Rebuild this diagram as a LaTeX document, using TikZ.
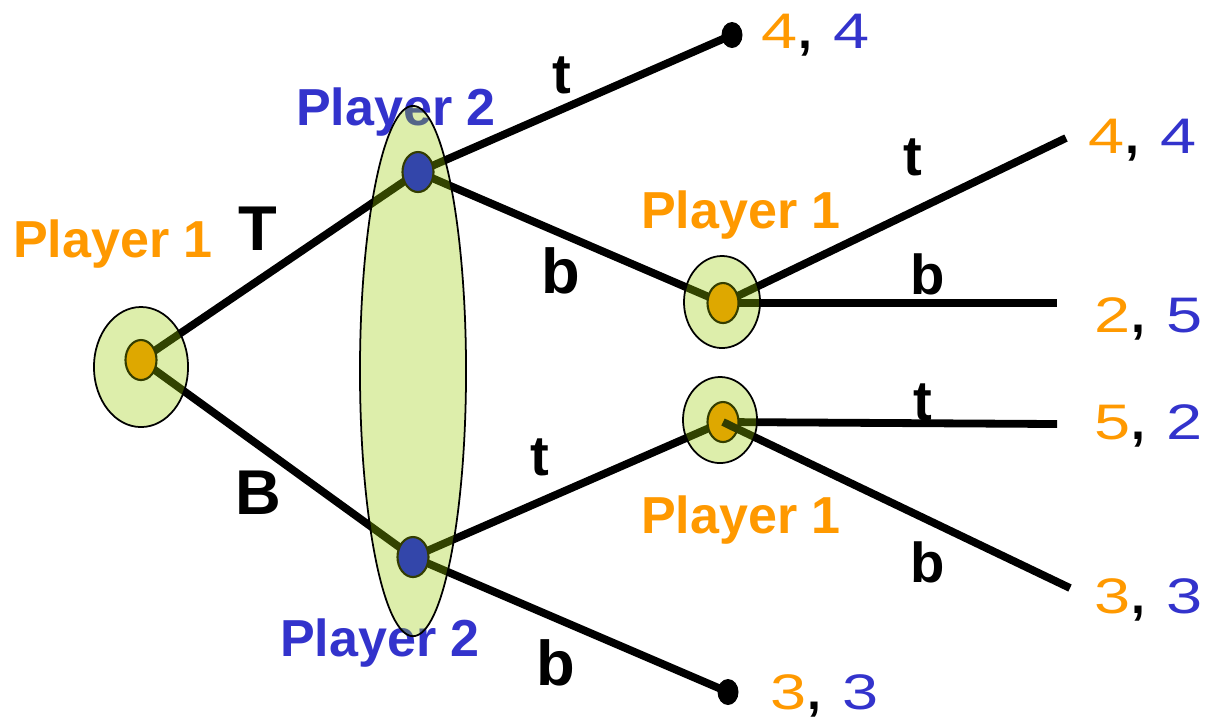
\documentclass[tikz,border=0pt]{standalone}
\usepackage{fontspec}
\setmainfont{Liberation Sans}
\newfontfamily\payfont{Liberation Sans}[FakeStretch=1.3]
\usetikzlibrary{shapes.geometric}
\definecolor{pone}{RGB}{255,153,0}
\definecolor{ptwo}{RGB}{51,51,204}
\definecolor{halogreen}{RGB}{153,204,0}
\definecolor{dotone}{RGB}{222,168,0}
\definecolor{dottwo}{RGB}{51,70,170}
\definecolor{rim}{RGB}{51,61,0}
\newcommand{\payoff}[2]{{\color{pone}#1}{\normalfont\bfseries,}\hspace{0.04cm} {\color{ptwo}#2}}

\begin{document}
\begin{tikzpicture}[
  x=0.01cm,y=-0.01cm,
  branch/.style={line width=0.078cm,black},
  halo/.style={draw,ellipse,line width=0.5pt,fill=halogreen,fill opacity=0.33,draw opacity=1,inner sep=0pt},
  dot/.style={draw=rim,ellipse,line width=0.6pt,minimum width=0.31cm,minimum height=0.4cm,inner sep=0pt},
  leaf/.style={fill=black,ellipse,minimum width=0.21cm,minimum height=0.26cm,inner sep=0pt},
  who/.style={font=\fontsize{14.8}{17}\selectfont\bfseries,anchor=base,inner sep=0pt},
  act/.style={font=\fontsize{16}{19}\selectfont\bfseries,anchor=base,inner sep=0pt},
  bigact/.style={act,font=\fontsize{18}{21}\selectfont\bfseries},
  pay/.style={font=\fontsize{14.2}{17}\selectfont\payfont,anchor=base,inner sep=0pt}
]
\useasboundingbox (0,0) rectangle (1207,720);
% player labels
\node[who,pone] (w1) at (113,257) {Player 1};
\node[who,ptwo] (w2) at (396,125) {Player 2};
\node[who,ptwo] (w3) at (380,656) {Player 2};
\node[who,pone] (w4) at (741,228) {Player 1};
\node[who,pone] (w5) at (741,533) {Player 1};
% decision points and ends
\coordinate (root) at (141,360);
\coordinate (p2up) at (418,172);
\coordinate (p2dn) at (413,557);
\coordinate (p1up) at (723,303);
\coordinate (p1dn) at (723,422);
\coordinate (endup) at (732,35);
\coordinate (enddn) at (728,692);
\coordinate (ctt) at (1066,138);
\coordinate (ctb) at (1057,303);
\coordinate (cbt) at (1057,424);
\coordinate (cbb) at (1070,588);
% branches
\draw[branch] (root) -- (p2up);
\draw[branch] (root) -- (p2dn);
\draw[branch] (p2up) -- (endup);
\draw[branch] (p2up) -- (p1up);
\draw[branch] (p2dn) -- (p1dn);
\draw[branch] (p2dn) -- (enddn);
\draw[branch] (p1up) -- (ctt);
\draw[branch] (p1up) -- (ctb);
\draw[branch] (p1dn) -- (cbt);
\draw[branch] (p1dn) -- (cbb);
% information sets
\node[halo,minimum width=0.94cm,minimum height=1.2cm] (h1) at (141,367) {};
\node[halo,minimum width=1.06cm,minimum height=5.3cm] (h2) at (413,371) {};
\node[halo,minimum width=0.76cm,minimum height=0.92cm] (h3) at (722,302) {};
\node[halo,minimum width=0.74cm,minimum height=0.86cm] (h4) at (720,420) {};
% nodes
\node[dot,fill=dotone] (d1) at (root) {};
\node[dot,fill=dottwo] (d2) at (p2up) {};
\node[dot,fill=dottwo] (d3) at (p2dn) {};
\node[dot,fill=dotone] (d4) at (p1up) {};
\node[dot,fill=dotone] (d5) at (p1dn) {};
\draw[branch,draw=rim] (d5.center) -- (d5.-26);
\node[leaf] (e1) at (endup) {};
\node[leaf] (e2) at (enddn) {};
% actions
\node[bigact] (aT) at (258,250) {T};
\node[bigact] (aB) at (258,514) {B};
\node[act] (a1) at (562,93) {t};
\node[bigact] (a2) at (561,293) {b};
\node[act] (a3) at (540,475) {t};
\node[bigact] (a4) at (556,685) {b};
\node[act] (a5) at (913,175) {t};
\node[act] (a6) at (928,294) {b};
\node[act] (a7) at (923,420) {t};
\node[act] (a8) at (928,582) {b};
% payoffs
\node[pay] (q1) at (816,48) {\payoff{4}{4}};
\node[pay] (q2) at (1143,153) {\payoff{4}{4}};
\node[pay] (q3) at (1149,332) {\payoff{2}{5}};
\node[pay] (q4) at (1149,439) {\payoff{5}{2}};
\node[pay] (q5) at (1149,613) {\payoff{3}{3}};
\node[pay] (q6) at (825,709) {\payoff{3}{3}};
\end{tikzpicture}
\end{document}
